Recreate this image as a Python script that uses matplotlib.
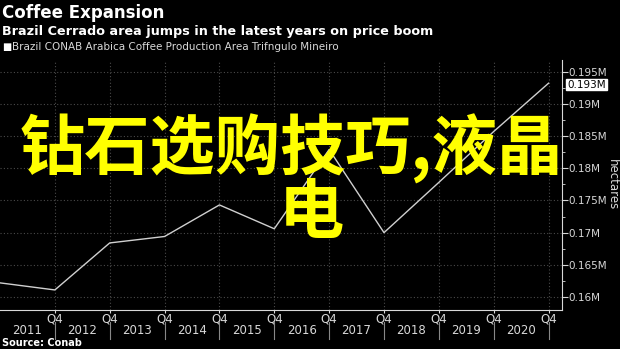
import numpy as np
import matplotlib
matplotlib.use("Agg")
import matplotlib.pyplot as plt
import matplotlib.transforms as mtransforms

# Cerrado (Triangulo Mineiro) arabica area, Q4 of each year, hectares
years = [2010, 2011, 2012, 2013, 2014, 2015, 2016, 2017, 2018, 2019, 2020]
area = [0.1622, 0.1611, 0.1684, 0.1694, 0.1743, 0.1706, 0.1829, 0.1700, 0.1778, 0.1857, 0.1932]

year_labels = ["2011", "2012", "2013", "2014", "2015", "2016", "2017", "2018", "2019", "2020"]
y_ticks = [0.16, 0.165, 0.17, 0.175, 0.18, 0.185, 0.19, 0.195]
y_tick_labels = ["0.16M", "0.165M", "0.17M", "0.175M", "0.18M", "0.185M", "0.19M", "0.195M"]

narrow = ["Liberation Sans Narrow", "DejaVu Sans"]
fg = "#d8d8d8"

fig = plt.figure(figsize=(6.2, 3.49), dpi=100, facecolor="black")
ax = fig.add_axes([0.0, 0.112, 0.906, 0.716], facecolor="black")

ax.plot(years, area, color="#d0d0d0", lw=1.0, zorder=3)

ax.set_xlim(2010, 2020.24)
ax.set_ylim(0.158, 0.1968)

# right-hand value axis
ax.yaxis.tick_right()
ax.yaxis.set_label_position("right")
ax.set_yticks(y_ticks)
ax.set_yticklabels(y_tick_labels, fontfamily=narrow, fontsize=7.5, color=fg)
ax.set_yticks([v + 0.0025 for v in y_ticks[:-1]], minor=True)
ax.tick_params(axis="y", which="major", length=4, color=fg, pad=1)
ax.tick_params(axis="y", which="minor", length=2, color=fg)
ax.set_ylabel("hectares", rotation=270, color=fg, fontsize=8.5, va="center")
ax.yaxis.set_label_coords(1.09, 0.5)

# quarter ticks and year labels on the bottom axis
q4 = years[1:]
ax.set_xticks(q4)
ax.set_xticklabels(["Q4"] * len(q4), fontfamily=narrow, fontsize=8.5, color=fg)
ax.set_xticks([y - 0.5 for y in q4], minor=True)
ax.set_xticklabels(year_labels, minor=True, fontfamily=narrow, fontsize=8.5, color=fg)
ax.tick_params(axis="x", which="major", length=2, color=fg, pad=0)
ax.tick_params(axis="x", which="minor", length=0, pad=10)

trans = mtransforms.blended_transform_factory(ax.transData, ax.transAxes)
for x in q4:
    ax.plot([x, x], [-0.05, -0.115], transform=trans, color="#888888",
            lw=0.8, clip_on=False)

ax.grid(True, which="major", color="#4a4a4a", linestyle=(0, (1, 2)), lw=0.8)

for side in ["top", "left"]:
    ax.spines[side].set_visible(False)
ax.spines["right"].set_color(fg)
ax.spines["bottom"].set_color(fg)

# last value tag
ax.annotate(f"{area[-1]:.3f}M", xy=(1.0, area[-1]), xycoords=("axes fraction", "data"),
            xytext=(4, -1), textcoords="offset points", va="center", ha="left",
            fontfamily=narrow, fontsize=7.5, color="black",
            bbox=dict(boxstyle="square,pad=0.08", fc="white", ec="white"))

# titles
fig.text(0.004, 0.962, "Coffee Expansion", fontsize=12, fontweight="bold",
         color="white", va="center")
fig.text(0.004, 0.91, "Brazil Cerrado area jumps in the latest years on price boom",
         fontsize=9.2, fontweight="bold", color="white", va="center")
fig.text(0.004, 0.865, "\u25a0", fontsize=7, color="white", va="center")
fig.text(0.02, 0.865, "Brazil CONAB Arabica Coffee Production Area Trifngulo Mineiro",
         fontfamily=narrow, fontsize=7.5, color=fg, va="center")
fig.text(0.004, 0.004, "Source: Conab", fontsize=7, fontweight="bold",
         color="white", va="bottom")

# yellow banner text
cjk = ["Noto Sans CJK SC", "DejaVu Sans"]
fig.text(0.47, 1 - 149 / 349, "钻石选购技巧,液晶", family=cjk, fontsize=47,
         fontweight="bold", color="#ffff00", ha="center", va="center")
fig.text(0.503, 1 - 214 / 349, "电", family=cjk, fontsize=47,
         fontweight="bold", color="#ffff00", ha="center", va="center")

fig.savefig("out.png", dpi=100, facecolor="black")
